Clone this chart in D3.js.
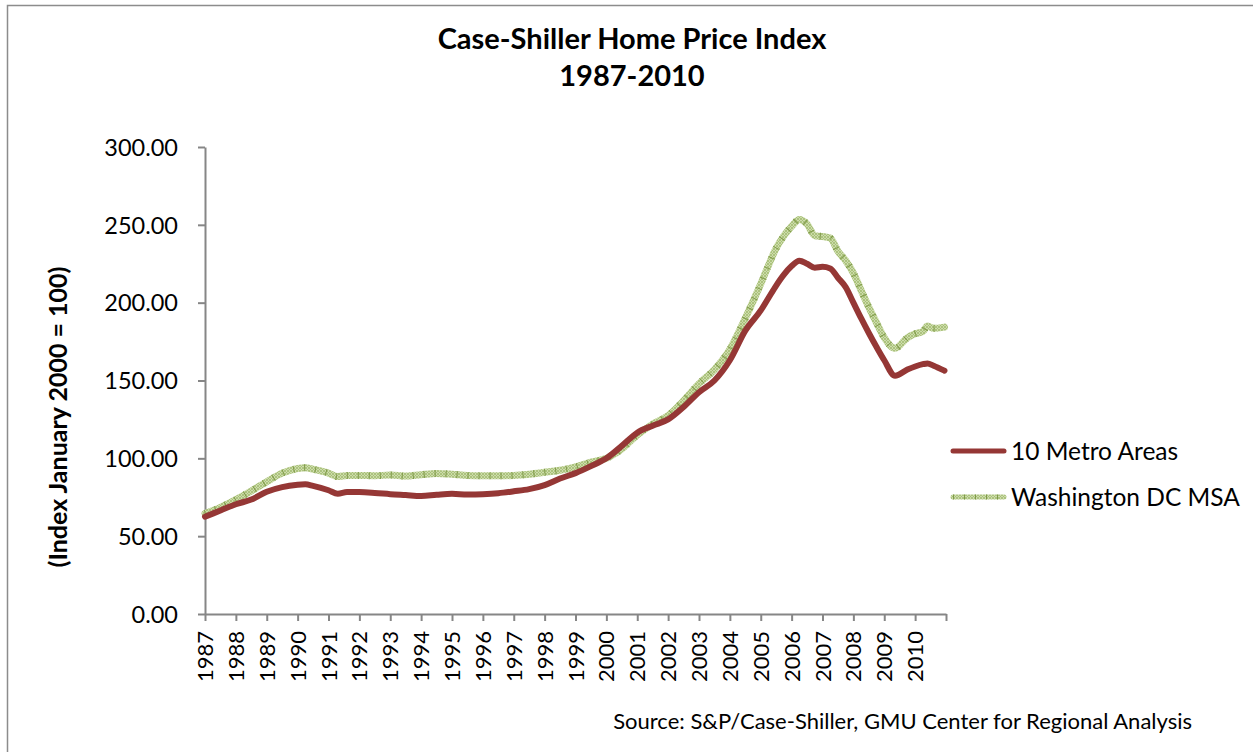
<!DOCTYPE html>
<html>
<head>
<meta charset="utf-8">
<script src="https://cdn.jsdelivr.net/npm/d3@7"></script>
<style>
  body { margin: 0; background: #fff; }
  text { font-family: Lato, "Open Sans", sans-serif; fill: #000; }
</style>
</head>
<body>
<div id="chart"></div>
<script>
// decimal years shared by both series
const years = [1987.0, 1987.5, 1988.0, 1988.5, 1989.0, 1989.5, 1990.0, 1990.25, 1990.5, 1991.0,
  1991.3, 1991.6, 1992.0, 1992.5, 1993.0, 1993.5, 1994.0, 1994.5, 1995.0, 1995.5,
  1996.0, 1996.5, 1997.0, 1997.5, 1998.0, 1998.5, 1999.0, 1999.5, 2000.0, 2000.5,
  2001.0, 2001.5, 2002.0, 2002.5, 2003.0, 2003.5, 2004.0, 2004.5, 2005.0, 2005.25,
  2005.5, 2005.75, 2006.0, 2006.25, 2006.5, 2006.75, 2007.0, 2007.25, 2007.5, 2007.75,
  2008.0, 2008.25, 2008.5, 2008.75, 2009.0, 2009.35, 2009.75, 2010.0, 2010.25, 2010.4,
  2010.6, 2010.95];

const metro10 = [62.5, 66.5, 70.5, 73.5, 78.5, 81.5, 83.0, 83.3, 82.3, 79.5,
  77.3, 78.3, 78.3, 77.8, 77.0, 76.4, 75.8, 76.6, 77.2, 76.8,
  77.0, 77.6, 78.8, 80.2, 82.8, 87.0, 90.5, 95.0, 100.0, 108.0,
  116.5, 121.0, 125.0, 133.0, 142.5, 150.0, 163.0, 182.0, 195.0, 203.0,
  211.0, 218.0, 223.5, 227.0, 225.0, 222.5, 223.0, 222.0, 216.0, 210.0,
  200.0, 190.0, 180.5, 171.5, 163.0, 153.0, 157.0, 159.0, 160.5, 161.0,
  159.5, 156.3];

const washingtonDC = [64.5, 68.5, 73.5, 79.0, 85.0, 90.5, 93.5, 94.0, 93.0, 90.5,
  88.3, 89.0, 89.0, 88.8, 89.3, 88.6, 89.5, 90.3, 89.8, 89.0,
  88.8, 88.8, 89.0, 89.8, 91.0, 92.3, 94.5, 97.5, 100.0, 106.0,
  115.0, 122.0, 127.5, 137.0, 148.0, 157.0, 170.0, 190.0, 212.0, 224.0,
  235.0, 243.0, 249.0, 253.5, 250.5, 243.0, 242.5, 241.5, 233.0, 227.0,
  219.0, 208.0, 197.0, 187.0, 177.5, 170.7, 177.5, 180.0, 181.5, 185.0,
  183.5, 184.3];

const yTicks = [0, 50, 100, 150, 200, 250, 300];
const xTickYears = d3.range(1987, 2011);
const seriesNames = ["10 Metro Areas", "Washington DC MSA"];

const W = 1253, H = 752;
const svg = d3.select("#chart").append("svg")
  .attr("width", W).attr("height", H);

// chart frame
svg.append("rect")
  .attr("x", 7.5).attr("y", 5.5)
  .attr("width", 1300).attr("height", 800)
  .attr("fill", "none").attr("stroke", "#8c8c8c").attr("stroke-width", 1.5);

const x = d3.scaleLinear().domain([1987, 2011]).range([205, 946]);
const y = d3.scaleLinear().domain([0, 300]).range([614, 147]);

// green texture pattern
const defs = svg.append("defs");
const pat = defs.append("pattern")
  .attr("id", "hatch").attr("patternUnits", "userSpaceOnUse")
  .attr("width", 3).attr("height", 3);
pat.append("rect").attr("width", 3).attr("height", 3).attr("fill", "#cddcab");
pat.append("path").attr("d", "M0,0 L3,3 M3,0 L0,3")
  .attr("stroke", "#a3bd72").attr("stroke-width", 0.8);

// axes
const yAxis = svg.append("g")
  .attr("transform", "translate(205,0)")
  .call(d3.axisLeft(y).tickValues(yTicks).tickFormat(d3.format(".2f")).tickSize(7).tickSizeOuter(0));
yAxis.select(".domain").attr("stroke", "#868686").attr("stroke-width", 2);
yAxis.selectAll(".tick line").attr("stroke", "#868686").attr("stroke-width", 2);
yAxis.selectAll(".tick text")
  .attr("x", -27).attr("dy", "0.35em")
  .style("font-size", "23.5px").style("font-family", "Lato, sans-serif").attr("fill", "#000");

const xAxis = svg.append("g")
  .attr("transform", "translate(0,614)")
  .call(d3.axisBottom(x).tickValues(d3.range(1987, 2012)).tickFormat("").tickSize(7).tickSizeOuter(0));
xAxis.select(".domain").attr("stroke", "#868686").attr("stroke-width", 2);
xAxis.selectAll(".tick line").attr("stroke", "#868686").attr("stroke-width", 2);

svg.append("g").selectAll("text")
  .data(xTickYears)
  .join("text")
  .attr("transform", d => "translate(" + (x(d) + 8) + ",631) rotate(-90)")
  .attr("text-anchor", "end")
  .style("font-size", "22px")
  .text(d => d);

// lines
const line = d3.line()
  .x((d, i) => x(years[i]))
  .y(d => y(d))
  .curve(d3.curveMonotoneX);

svg.append("path")
  .datum(washingtonDC)
  .attr("fill", "none")
  .attr("stroke", "url(#hatch)")
  .attr("stroke-width", 7)
  .attr("stroke-linejoin", "round")
  .attr("stroke-linecap", "round")
  .attr("d", line);
svg.append("path")
  .datum(washingtonDC)
  .attr("fill", "none")
  .attr("stroke", "#7f9a48")
  .attr("stroke-width", 7)
  .attr("stroke-dasharray", "1 10")
  .attr("d", line);

svg.append("path")
  .datum(metro10)
  .attr("fill", "none")
  .attr("stroke", "#953735")
  .attr("stroke-width", 6)
  .attr("stroke-linejoin", "round")
  .attr("stroke-linecap", "round")
  .attr("d", line);

// legend
const leg = svg.append("g");
leg.append("line")
  .attr("x1", 953).attr("x2", 1004).attr("y1", 451).attr("y2", 451)
  .attr("stroke", "#953735").attr("stroke-width", 5).attr("stroke-linecap", "round");
leg.append("line")
  .attr("x1", 953).attr("x2", 1004).attr("y1", 497).attr("y2", 497)
  .attr("stroke", "url(#hatch)").attr("stroke-width", 5).attr("stroke-linecap", "round");
leg.append("line")
  .attr("x1", 953).attr("x2", 1004).attr("y1", 497).attr("y2", 497)
  .attr("stroke", "#7f9a48").attr("stroke-width", 5).attr("stroke-dasharray", "1 10");
leg.selectAll("text.lbl")
  .data(seriesNames)
  .join("text")
  .attr("x", 1011)
  .attr("y", (d, i) => 451 + i * 46)
  .attr("dy", "0.35em")
  .style("font-size", "24.5px")
  .text(d => d);

// title
svg.append("text")
  .attr("x", 632).attr("y", 49)
  .attr("text-anchor", "middle")
  .style("font-size", "29px").style("font-weight", "bold")
  .text("Case-Shiller Home Price Index");
svg.append("text")
  .attr("x", 632).attr("y", 86)
  .attr("text-anchor", "middle")
  .style("font-size", "29px").style("font-weight", "bold")
  .text("1987-2010");

// y axis title
svg.append("text")
  .attr("transform", "translate(67,417) rotate(-90)")
  .attr("text-anchor", "middle")
  .style("font-size", "25px").style("font-weight", "bold")
  .text("(Index January 2000 = 100)");

// source note
svg.append("text")
  .attr("x", 1192).attr("y", 729)
  .attr("text-anchor", "end")
  .style("font-size", "22px")
  .text("Source: S&P/Case-Shiller, GMU Center for Regional Analysis");
</script>
</body>
</html>
